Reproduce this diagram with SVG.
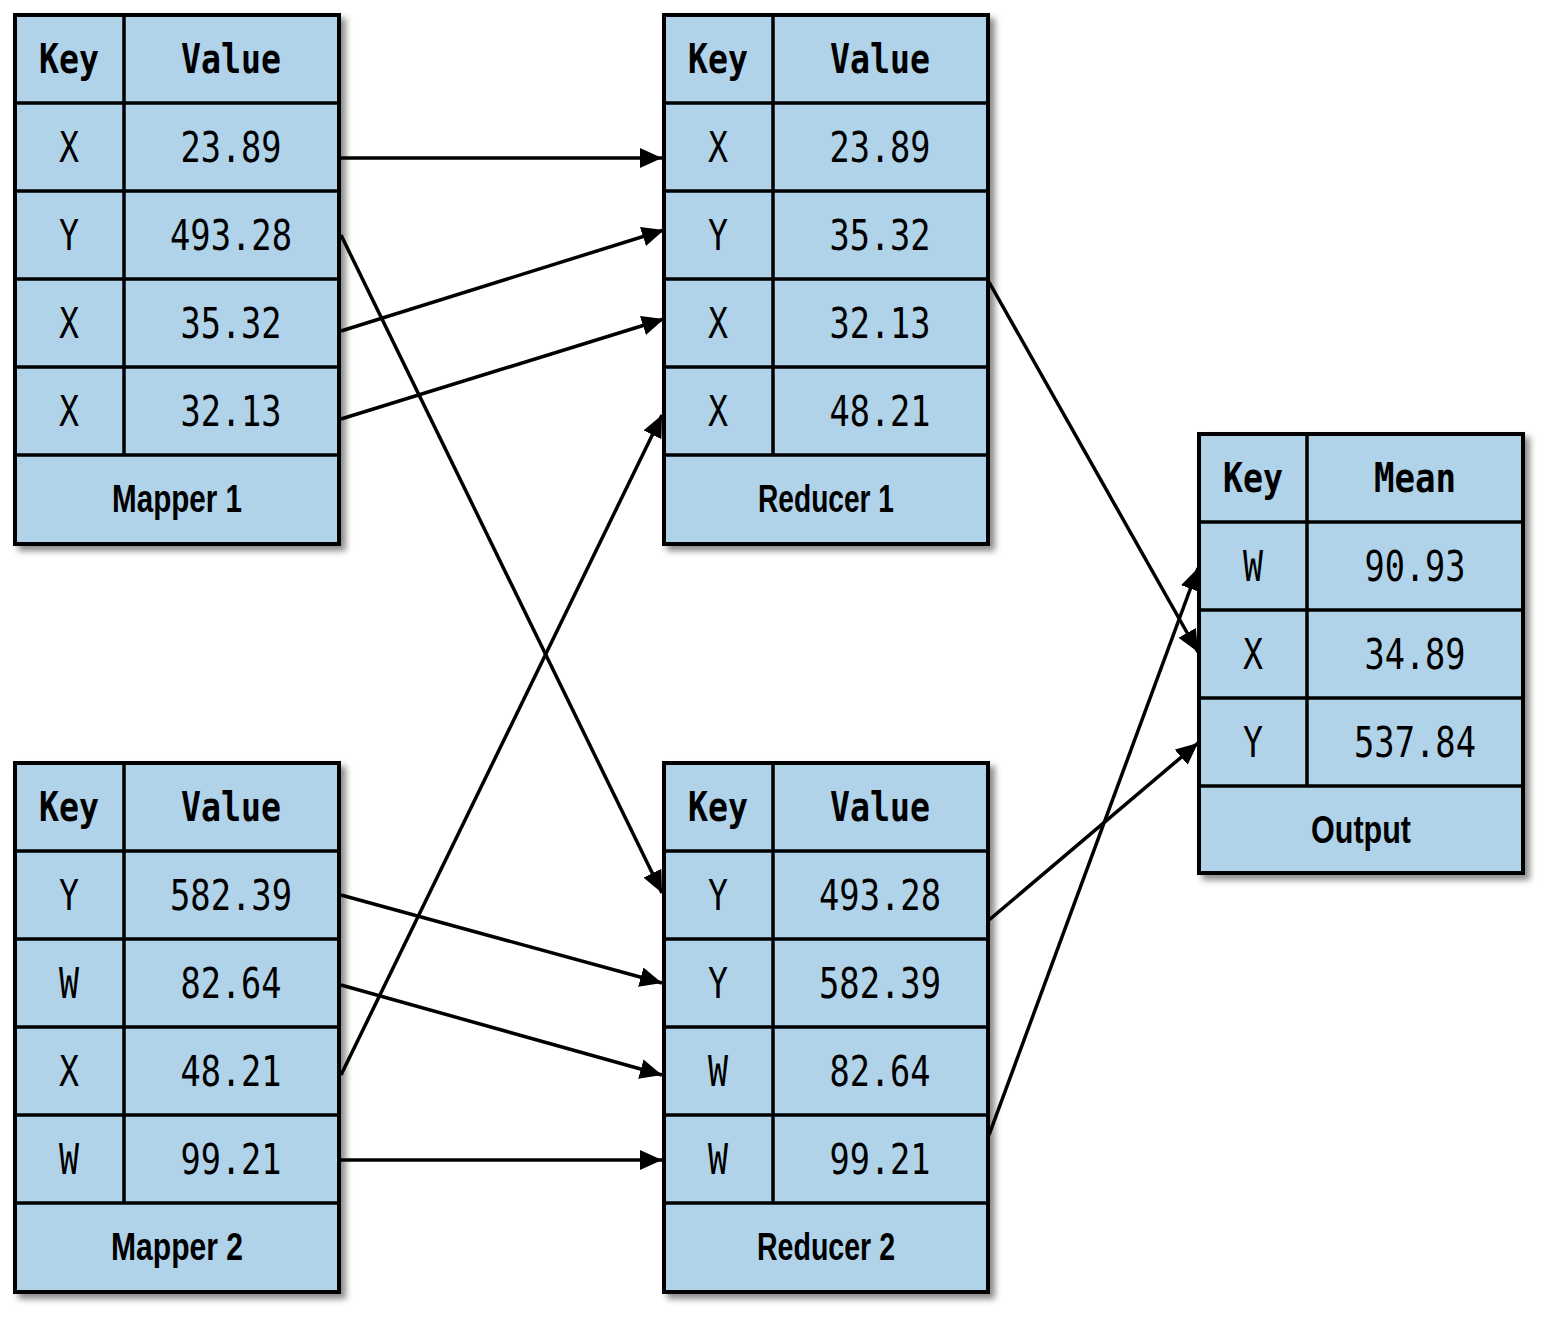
<svg xmlns="http://www.w3.org/2000/svg" width="1552" height="1322" viewBox="0 0 1552 1322">
<defs>
<filter id="sh" x="-10%" y="-10%" width="130%" height="130%">
<feDropShadow dx="5" dy="5" stdDeviation="3" flood-color="#000" flood-opacity="0.45"/>
</filter>
<marker id="ah" markerUnits="userSpaceOnUse" markerWidth="24" markerHeight="22" refX="22" refY="10" orient="auto">
<path d="M0,0 L22,10 L0,20 z" fill="#000"/>
</marker>
<style>
.box{fill:#b0d3e9;stroke:#000;stroke-width:4}
.ln{stroke:#000;stroke-width:3.5;fill:none}
.hd{font-family:"DejaVu Sans Mono",monospace;font-weight:bold;font-size:40px;text-anchor:middle;fill:#000}
.v{font-family:"DejaVu Sans Mono",monospace;font-size:42px;text-anchor:middle;fill:#000}
.ft{font-family:"Liberation Sans",Arial,sans-serif;font-weight:bold;font-size:38px;text-anchor:middle;fill:#000}
.c{stroke:#000;stroke-width:3.5;fill:none;marker-end:url(#ah)}
</style>
</defs>
<rect width="1552" height="1322" fill="#fff"/>

<g id="mapper1">
<rect class="box" x="15" y="15" width="324" height="529" filter="url(#sh)"/>
<path class="ln" d="M15,103H339M15,191H339M15,279H339M15,367H339M15,455H339M124,15V455"/>
<text class="hd" x="69" y="73" textLength="60" lengthAdjust="spacingAndGlyphs">Key</text>
<text class="hd" x="231" y="73" textLength="100" lengthAdjust="spacingAndGlyphs">Value</text>
<text class="v" x="69" y="162" textLength="20" lengthAdjust="spacingAndGlyphs">X</text>
<text class="v" x="231" y="162" textLength="101" lengthAdjust="spacingAndGlyphs">23.89</text>
<text class="v" x="69" y="250" textLength="20" lengthAdjust="spacingAndGlyphs">Y</text>
<text class="v" x="231" y="250" textLength="122" lengthAdjust="spacingAndGlyphs">493.28</text>
<text class="v" x="69" y="338" textLength="20" lengthAdjust="spacingAndGlyphs">X</text>
<text class="v" x="231" y="338" textLength="101" lengthAdjust="spacingAndGlyphs">35.32</text>
<text class="v" x="69" y="426" textLength="20" lengthAdjust="spacingAndGlyphs">X</text>
<text class="v" x="231" y="426" textLength="101" lengthAdjust="spacingAndGlyphs">32.13</text>
<text class="ft" x="177" y="512" textLength="130" lengthAdjust="spacingAndGlyphs">Mapper 1</text>
</g>

<g id="mapper2">
<rect class="box" x="15" y="763" width="324" height="529" filter="url(#sh)"/>
<path class="ln" d="M15,851H339M15,939H339M15,1027H339M15,1115H339M15,1203H339M124,763V1203"/>
<text class="hd" x="69" y="821" textLength="60" lengthAdjust="spacingAndGlyphs">Key</text>
<text class="hd" x="231" y="821" textLength="100" lengthAdjust="spacingAndGlyphs">Value</text>
<text class="v" x="69" y="910" textLength="20" lengthAdjust="spacingAndGlyphs">Y</text>
<text class="v" x="231" y="910" textLength="122" lengthAdjust="spacingAndGlyphs">582.39</text>
<text class="v" x="69" y="998" textLength="20" lengthAdjust="spacingAndGlyphs">W</text>
<text class="v" x="231" y="998" textLength="101" lengthAdjust="spacingAndGlyphs">82.64</text>
<text class="v" x="69" y="1086" textLength="20" lengthAdjust="spacingAndGlyphs">X</text>
<text class="v" x="231" y="1086" textLength="101" lengthAdjust="spacingAndGlyphs">48.21</text>
<text class="v" x="69" y="1174" textLength="20" lengthAdjust="spacingAndGlyphs">W</text>
<text class="v" x="231" y="1174" textLength="101" lengthAdjust="spacingAndGlyphs">99.21</text>
<text class="ft" x="177" y="1260" textLength="132" lengthAdjust="spacingAndGlyphs">Mapper 2</text>
</g>

<g id="reducer1">
<rect class="box" x="664" y="15" width="324" height="529" filter="url(#sh)"/>
<path class="ln" d="M664,103H988M664,191H988M664,279H988M664,367H988M664,455H988M773,15V455"/>
<text class="hd" x="718" y="73" textLength="60" lengthAdjust="spacingAndGlyphs">Key</text>
<text class="hd" x="880" y="73" textLength="100" lengthAdjust="spacingAndGlyphs">Value</text>
<text class="v" x="718" y="162" textLength="20" lengthAdjust="spacingAndGlyphs">X</text>
<text class="v" x="880" y="162" textLength="101" lengthAdjust="spacingAndGlyphs">23.89</text>
<text class="v" x="718" y="250" textLength="20" lengthAdjust="spacingAndGlyphs">Y</text>
<text class="v" x="880" y="250" textLength="101" lengthAdjust="spacingAndGlyphs">35.32</text>
<text class="v" x="718" y="338" textLength="20" lengthAdjust="spacingAndGlyphs">X</text>
<text class="v" x="880" y="338" textLength="101" lengthAdjust="spacingAndGlyphs">32.13</text>
<text class="v" x="718" y="426" textLength="20" lengthAdjust="spacingAndGlyphs">X</text>
<text class="v" x="880" y="426" textLength="101" lengthAdjust="spacingAndGlyphs">48.21</text>
<text class="ft" x="826" y="512" textLength="136" lengthAdjust="spacingAndGlyphs">Reducer 1</text>
</g>

<g id="reducer2">
<rect class="box" x="664" y="763" width="324" height="529" filter="url(#sh)"/>
<path class="ln" d="M664,851H988M664,939H988M664,1027H988M664,1115H988M664,1203H988M773,763V1203"/>
<text class="hd" x="718" y="821" textLength="60" lengthAdjust="spacingAndGlyphs">Key</text>
<text class="hd" x="880" y="821" textLength="100" lengthAdjust="spacingAndGlyphs">Value</text>
<text class="v" x="718" y="910" textLength="20" lengthAdjust="spacingAndGlyphs">Y</text>
<text class="v" x="880" y="910" textLength="122" lengthAdjust="spacingAndGlyphs">493.28</text>
<text class="v" x="718" y="998" textLength="20" lengthAdjust="spacingAndGlyphs">Y</text>
<text class="v" x="880" y="998" textLength="122" lengthAdjust="spacingAndGlyphs">582.39</text>
<text class="v" x="718" y="1086" textLength="20" lengthAdjust="spacingAndGlyphs">W</text>
<text class="v" x="880" y="1086" textLength="101" lengthAdjust="spacingAndGlyphs">82.64</text>
<text class="v" x="718" y="1174" textLength="20" lengthAdjust="spacingAndGlyphs">W</text>
<text class="v" x="880" y="1174" textLength="101" lengthAdjust="spacingAndGlyphs">99.21</text>
<text class="ft" x="826" y="1260" textLength="138" lengthAdjust="spacingAndGlyphs">Reducer 2</text>
</g>

<g id="output">
<rect class="box" x="1199" y="434" width="324" height="439" filter="url(#sh)"/>
<path class="ln" d="M1199,522H1523M1199,610H1523M1199,698H1523M1199,786H1523M1307,434V786"/>
<text class="hd" x="1253" y="492" textLength="60" lengthAdjust="spacingAndGlyphs">Key</text>
<text class="hd" x="1415" y="492" textLength="82" lengthAdjust="spacingAndGlyphs">Mean</text>
<text class="v" x="1253" y="581" textLength="20" lengthAdjust="spacingAndGlyphs">W</text>
<text class="v" x="1415" y="581" textLength="101" lengthAdjust="spacingAndGlyphs">90.93</text>
<text class="v" x="1253" y="669" textLength="20" lengthAdjust="spacingAndGlyphs">X</text>
<text class="v" x="1415" y="669" textLength="101" lengthAdjust="spacingAndGlyphs">34.89</text>
<text class="v" x="1253" y="757" textLength="20" lengthAdjust="spacingAndGlyphs">Y</text>
<text class="v" x="1415" y="757" textLength="122" lengthAdjust="spacingAndGlyphs">537.84</text>
<text class="ft" x="1361" y="843" textLength="100" lengthAdjust="spacingAndGlyphs">Output</text>
</g>

<g id="connectors">
<line class="c" x1="341" y1="158" x2="662" y2="158"/>
<line class="c" x1="341" y1="235" x2="662" y2="893"/>
<line class="c" x1="341" y1="331" x2="664" y2="230"/>
<line class="c" x1="341" y1="419" x2="664" y2="319"/>
<line class="c" x1="341" y1="1075" x2="662" y2="415"/>
<line class="c" x1="341" y1="895" x2="662" y2="983"/>
<line class="c" x1="341" y1="985" x2="662" y2="1075"/>
<line class="c" x1="341" y1="1160" x2="662" y2="1160"/>
<line class="c" x1="989" y1="282" x2="1198" y2="652"/>
<line class="c" x1="989" y1="920" x2="1198" y2="743"/>
<line class="c" x1="989" y1="1135" x2="1198" y2="568"/>
</g>
</svg>
